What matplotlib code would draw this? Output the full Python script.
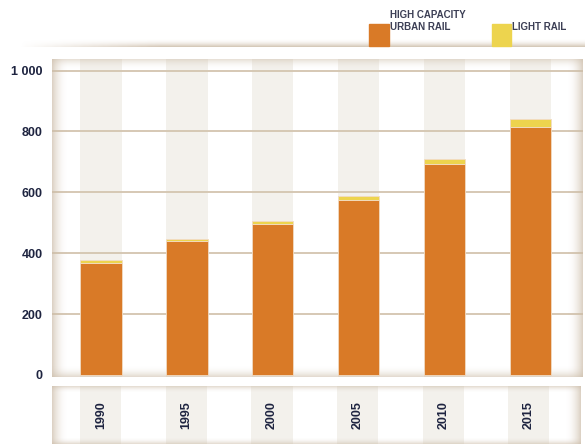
import matplotlib.pyplot as plt
import numpy as np
from matplotlib.patches import Rectangle

plt.rcParams['font.family'] = ['Liberation Sans', 'DejaVu Sans']

years = ['1990', '1995', '2000', '2005', '2010', '2015']
urban_rail = [368, 441, 496, 574, 692, 813]
light_rail = [9, 6, 11, 14, 19, 27]
yticks = [0, 200, 400, 600, 800, 1000]
ytick_labels = ['0', '200', '400', '600', '800', '1 000']

orange = '#d97a27'
yellow = '#edd44e'
stripe = '#f3f1ec'
beige = '#d6c8b4'
text_col = '#1e2440'

W, H = 585, 444
fig = plt.figure(figsize=(W / 100, H / 100), dpi=100)

def fpos(x0, y0, x1, y1):
    # pixel box (top-left origin) -> figure fraction
    return [x0 / W, 1 - y1 / H, (x1 - x0) / W, (y1 - y0) / H]

x = np.arange(len(years))
bw = 0.48
xlim = (-0.57, len(years) - 1 + 0.61)

def edge_shadow(ax, side_w=0.03, tb_h=0.035):
    c = np.array([0.80, 0.74, 0.66])
    img = np.zeros((1, 50, 4))
    img[0, :, :3] = c
    img[0, :, 3] = np.linspace(1, 0, 50) ** 2 * 0.7
    ax.imshow(img, extent=[0, side_w, 0, 1], transform=ax.transAxes,
              aspect='auto', zorder=0.6)
    ax.imshow(img[:, ::-1], extent=[1 - side_w, 1, 0, 1],
              transform=ax.transAxes, aspect='auto', zorder=0.6)
    img2 = np.zeros((20, 1, 4))
    img2[:, 0, :3] = c
    img2[:, 0, 3] = np.linspace(1, 0, 20) ** 2 * 0.55
    ax.imshow(img2, extent=[0, 1, 1 - tb_h, 1], transform=ax.transAxes,
              aspect='auto', zorder=0.6)
    ax.imshow(img2[::-1], extent=[0, 1, 0, tb_h], transform=ax.transAxes,
              aspect='auto', zorder=0.6)

# main panel
ax = fig.add_axes(fpos(52, 59, 583, 377))
ax.set_facecolor('white')
for s in ax.spines.values():
    s.set_visible(False)
for xi in x:
    ax.axvspan(xi - bw / 2, xi + bw / 2, color=stripe, zorder=0.2, lw=0)
edge_shadow(ax)
ax.bar(x, urban_rail, width=bw, color=orange, edgecolor='#f2dcc4',
       linewidth=0.6, zorder=3)
ax.bar(x, light_rail, width=bw, bottom=urban_rail, color=yellow,
       edgecolor='#f2dcc4', linewidth=0.6, zorder=3)
ax.set_yticks(yticks)
ax.set_yticklabels(ytick_labels, fontsize=9, fontweight='bold', color=text_col)
ax.tick_params(axis='y', length=0, pad=6.5)
ax.set_xticks([])
ax.yaxis.grid(True, color=beige, linewidth=1.4, zorder=1)
ax.set_axisbelow(True)
ax.get_ygridlines()[0].set_visible(False)
ax.set_xlim(*xlim)
ax.set_ylim(-7, 1038)

# lower label panel
ax2 = fig.add_axes(fpos(52, 386, 581, 444))
ax2.set_facecolor('white')
for s in ax2.spines.values():
    s.set_visible(False)
for xi in x:
    ax2.axvspan(xi - bw / 2, xi + bw / 2, color=stripe, zorder=0.2, lw=0)
edge_shadow(ax2, tb_h=0.12)
for xi, yr in zip(x, years):
    ax2.text(xi, 0.5, yr, rotation=90, ha='center', va='center',
             fontsize=9, fontweight='bold', color=text_col, zorder=3)
ax2.set_xticks([])
ax2.set_yticks([])
ax2.set_xlim(*xlim)
ax2.set_ylim(0, 1)

# top shadow strip
ax3 = fig.add_axes(fpos(15, 38, 585, 47))
ax3.axis('off')
strip = np.zeros((10, 60, 4))
strip[:, :, :3] = [0.80, 0.74, 0.66]
vert = np.linspace(0, 1, 10) ** 2
horiz = np.clip(np.linspace(0, 4, 60), 0, 1)
strip[:, :, 3] = np.outer(vert, horiz) * 0.8
ax3.imshow(strip, extent=[0, 1, 0, 1], aspect='auto')
ax3.set_xlim(0, 1)
ax3.set_ylim(0, 1)

# legend
fig.add_artist(Rectangle((369 / W, 1 - 46 / H), 20 / W, 22 / H,
                         transform=fig.transFigure, color=orange, zorder=5))
fig.add_artist(Rectangle((492 / W, 1 - 46 / H), 19 / W, 22 / H,
                         transform=fig.transFigure, color=yellow, zorder=5))
fig.text(390 / W, 1 - 15.5 / H, 'HIGH CAPACITY', fontsize=7,
         fontweight='bold', color='#3c3f55', va='center', ha='left')
fig.text(390 / W, 1 - 27 / H, 'URBAN RAIL', fontsize=7,
         fontweight='bold', color='#3c3f55', va='center', ha='left')
fig.text(512 / W, 1 - 27 / H, 'LIGHT RAIL', fontsize=7,
         fontweight='bold', color='#3c3f55', va='center', ha='left')

fig.savefig('out.png', dpi=100)
